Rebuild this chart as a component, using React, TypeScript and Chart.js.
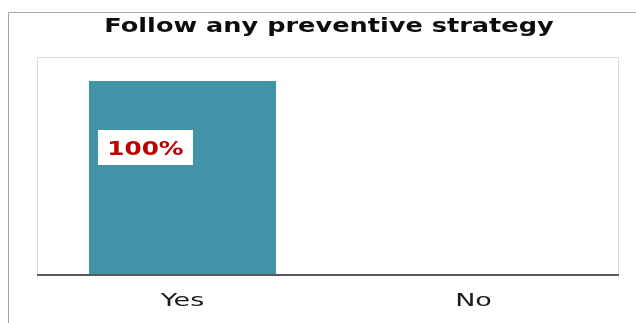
import React, { useEffect, useRef } from "react";
import { Chart, registerables } from "chart.js";

Chart.register(...registerables);

const title = "Follow any preventive strategy";
const categories = ["Yes", "No"];
const values = [100, 0];
const valueLabels = ["100%", "0%"];
const yMax = 112.3;

function stretchedText(
  ctx: CanvasRenderingContext2D,
  text: string,
  cx: number,
  baseline: number,
  font: string,
  color: string,
  sx: number
) {
  ctx.save();
  ctx.translate(cx, baseline);
  ctx.scale(sx, 1);
  ctx.font = font;
  ctx.fillStyle = color;
  ctx.textAlign = "center";
  ctx.textBaseline = "alphabetic";
  ctx.fillText(text, 0, 0);
  ctx.restore();
}

const decorPlugin = {
  id: "decor",
  beforeDraw(chart: any) {
    const ctx = chart.ctx as CanvasRenderingContext2D;
    const { width, height } = chart;
    const a = chart.chartArea;
    ctx.save();
    ctx.fillStyle = "#ffffff";
    ctx.fillRect(0, 0, width, height);
    // outer frame (left + top)
    ctx.strokeStyle = "#a6a6a6";
    ctx.lineWidth = 1;
    ctx.beginPath();
    ctx.moveTo(8.5, height);
    ctx.lineTo(8.5, 12.5);
    ctx.lineTo(width, 12.5);
    ctx.stroke();
    // plot area border
    ctx.strokeStyle = "#dcdcdc";
    ctx.beginPath();
    ctx.moveTo(a.left + 0.5, a.bottom);
    ctx.lineTo(a.left + 0.5, a.top + 0.5);
    ctx.lineTo(a.right - 0.5, a.top + 0.5);
    ctx.lineTo(a.right - 0.5, a.bottom);
    ctx.stroke();
    ctx.restore();
  },
  afterDatasetsDraw(chart: any) {
    const ctx = chart.ctx as CanvasRenderingContext2D;
    const a = chart.chartArea;
    const xScale = chart.scales.x;
    // axis line
    ctx.save();
    ctx.strokeStyle = "#595959";
    ctx.lineWidth = 2;
    ctx.beginPath();
    ctx.moveTo(a.left, a.bottom - 1);
    ctx.lineTo(a.right, a.bottom - 1);
    ctx.stroke();
    ctx.restore();

    // data labels
    const meta = chart.getDatasetMeta(0);
    meta.data.forEach((bar: any, i: number) => {
      if (!values[i]) return;
      const left = bar.x - bar.width / 2;
      const boxX = left + 9;
      const boxY = bar.y + 49;
      const boxW = 95;
      const boxH = 35;
      ctx.save();
      ctx.fillStyle = "#ffffff";
      ctx.fillRect(boxX, boxY, boxW, boxH);
      ctx.restore();
      stretchedText(
        ctx,
        valueLabels[i],
        boxX + boxW / 2,
        boxY + 25,
        "bold 19px 'DejaVu Sans'",
        "#c00000",
        1.3
      );
    });

    // tick labels
    categories.forEach((c, i) => {
      const x = xScale.getPixelForTick(i);
      stretchedText(ctx, c, x, a.bottom + 30, "18px 'DejaVu Sans'", "#1a1a1a", 1.5);
    });

    // title
    stretchedText(ctx, title, 329, 32, "bold 20px 'DejaVu Sans'", "#0d0d0d", 1.28);
  },
};

export default function App() {
  const ref = useRef<HTMLCanvasElement | null>(null);
  useEffect(() => {
    if (!ref.current) return;
    const chart = new Chart(ref.current, {
      type: "bar",
      data: {
        labels: categories,
        datasets: [
          {
            data: values,
            backgroundColor: "#4292a8",
            borderWidth: 0,
            categoryPercentage: 1,
            barPercentage: 0.643,
          },
        ],
      },
      options: {
        responsive: false,
        animation: false,
        devicePixelRatio: 1,
        layout: { padding: { left: 37, top: 57, right: 17, bottom: 47 } },
        plugins: {
          legend: { display: false },
          title: { display: false },
          tooltip: { enabled: false },
        },
        scales: {
          x: { display: false },
          y: { display: false, min: 0, max: yMax },
        },
      },
      plugins: [decorPlugin],
    });
    return () => chart.destroy();
  }, []);
  return (
    <div style={{ position: "absolute", left: 0, top: 0, width: 636, height: 323 }}>
      <canvas ref={ref} width={636} height={323} style={{ display: "block" }} />
    </div>
  );
}
